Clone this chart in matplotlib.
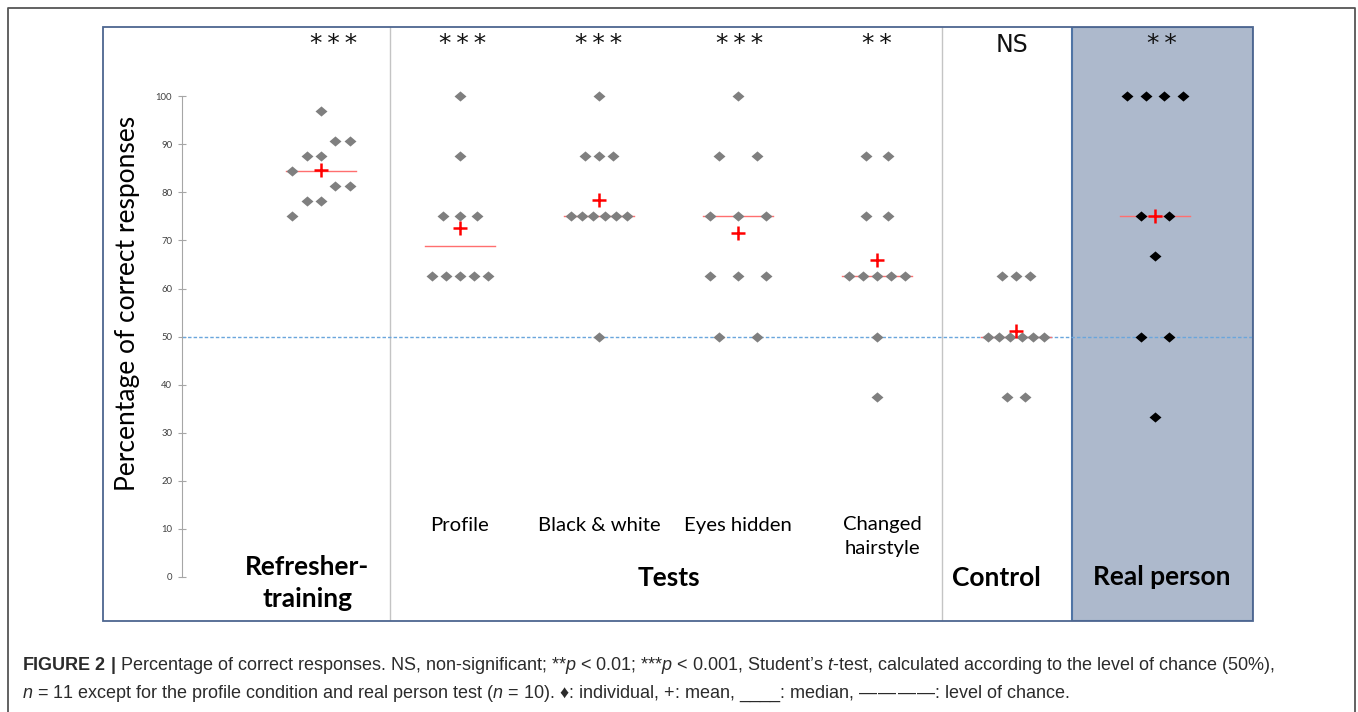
import numpy as np
import matplotlib.pyplot as plt
from matplotlib.path import Path
from matplotlib.lines import Line2D

plt.rcParams['mathtext.fontset'] = 'custom'
plt.rcParams['mathtext.rm'] = 'Liberation Sans'
plt.rcParams['mathtext.it'] = 'Liberation Sans:italic'
plt.rcParams['mathtext.bf'] = 'Liberation Sans:bold'

# data (percent correct, one value per individual)
refresher = [96.875, 90.625, 90.625, 87.5, 87.5, 84.375, 81.25, 81.25, 78.125, 78.125, 75]
profile = [100, 87.5, 75, 75, 75, 62.5, 62.5, 62.5, 62.5, 62.5]
black_white = [100, 87.5, 87.5, 87.5, 75, 75, 75, 75, 75, 75, 50]
eyes_hidden = [100, 87.5, 87.5, 75, 75, 75, 62.5, 62.5, 62.5, 50, 50]
hairstyle = [87.5, 87.5, 75, 75, 62.5, 62.5, 62.5, 62.5, 62.5, 50, 37.5]
control = [62.5, 62.5, 62.5, 50, 50, 50, 50, 50, 50, 37.5, 37.5]
real_person = [100, 100, 100, 100, 75, 75, 66.67, 50, 50, 33.33]

values = [refresher, profile, black_white, eyes_hidden, hairstyle, control, real_person]
stars = ["***", "***", "***", "***", "**", "NS", "**"]
sub_labels = ["Profile", "Black & white", "Eyes hidden", "Changed\nhairstyle"]
chance = 50

# horizontal spread of the dots inside each column (layout only)
s = 0.103
spread = [
    [0, s, 2*s, -s, 0, -2*s, s, 2*s, -s, 0, -2*s],
    [0, 0, -0.12, 0, 0.12, -0.2, -0.1, 0, 0.1, 0.2],
    [0, -0.1, 0, 0.1, -0.2, -0.12, -0.04, 0.04, 0.12, 0.2, 0],
    [0, -0.137, 0.137, -0.2, 0, 0.2, -0.2, 0, 0.2, -0.137, 0.137],
    [-0.08, 0.08, -0.08, 0.08, -0.2, -0.1, 0, 0.1, 0.2, 0, 0],
    [-0.1, 0, 0.1, -0.2, -0.12, -0.04, 0.04, 0.12, 0.2, -0.066, 0.066],
    [-0.2, -0.067, 0.067, 0.2, -0.1, 0.1, 0, -0.1, 0.1, 0],
]
star_shift = [0.09, 0.02, 0.0, 0.01, 0.0, -0.03, 0.05]

W, H = 1358, 712
fig = plt.figure(figsize=(W / 100, H / 100), dpi=100)
ax = fig.add_axes([103 / W, 1 - 621 / H, 1150 / W, 594 / H])
ax.set_xlim(-1.568, 6.705)
ax.set_ylim(-9.17, 114.4)
ax.patch.set_visible(False)

for side in ["top", "right", "bottom"]:
    ax.spines[side].set_visible(False)
ax.spines["left"].set_position(("data", -1))
ax.spines["left"].set_bounds(0, 100)
ax.spines["left"].set_color("#a6a6a6")
ax.set_yticks(np.arange(0, 101, 10))
ax.set_xticks([])
ax.tick_params(axis="y", direction="inout", length=6, width=0.8, color="#a6a6a6",
               labelsize=6.8, labelcolor="#404040", pad=4)
for lab in ax.get_yticklabels():
    lab.set_family("Lato")

# box, dividers and shaded real-person panel
box = plt.Rectangle((0, 0), 1, 1, transform=ax.transAxes, fill=False,
                    edgecolor="#4d6690", lw=1.3, clip_on=False, zorder=5)
ax.add_patch(box)
ax.axvline(0.496, color="#c4c4c4", lw=1)
ax.axvline(4.468, color="#c4c4c4", lw=1)
ax.axvspan(5.403, 6.705, facecolor="#adb9cc", edgecolor="#4f74a5", lw=1.5, zorder=0)

ax.plot([-1, 6.705], [chance, chance], color="#6aa6dc", lw=1.0,
        dashes=(2.5, 1.5), zorder=2)

diamond = Path([(-1, 0), (0, 0.85), (1, 0), (0, -0.85), (-1, 0)],
               [Path.MOVETO, Path.LINETO, Path.LINETO, Path.LINETO, Path.CLOSEPOLY])

for i, (vals, off) in enumerate(zip(values, spread)):
    vals = np.array(vals)
    xs = i + np.array(off)
    col = "#000000" if i == 6 else "#7f7f7f"
    med = np.median(vals)
    ax.plot([i - 0.25, i + 0.25], [med, med], color="#ff6f6f", lw=1, zorder=3)
    ax.plot(xs, vals, linestyle="none", marker=diamond, markersize=8.6,
            color=col, markeredgewidth=0, zorder=4)
    ax.plot(i, vals.mean(), linestyle="none", marker="+", markersize=10,
            markeredgewidth=1.8, color="#ff0000", zorder=6)
    if stars[i] == "NS":
        ax.text(i + star_shift[i], 110.6, "NS", ha="center", va="center",
                fontsize=17, family="DejaVu Sans", color="#111111")
    else:
        ax.text(i + star_shift[i], 110.9, "\u2009".join(stars[i]), ha="center",
                va="center", fontsize=18, family="DejaVu Sans", color="#111111")

# labels under the columns
for j, lab in enumerate(sub_labels):
    x = j + 1 + (0.04 if j == 3 else 0)
    y = 8.4 if "\n" in lab else 10.6
    ax.text(x, y, lab, ha="center", va="center", fontsize=14.6, family="Lato",
            linespacing=1.55)

bold = dict(ha="center", va="center", fontsize=19, family="Lato", fontweight="bold")
ax.text(-0.1, -1.3, "Refresher-\ntraining", linespacing=1.38, **bold)
ax.text(2.5, -0.2, "Tests", **bold)
ax.text(4.86, -0.2, "Control", **bold)
ax.text(6.05, 0, "Real person", **bold)

fig.text(127 / W, 1 - 303 / H, "Percentage of correct responses", rotation=90,
         ha="center", va="center", fontsize=19, family="Lato")

# outer frame
fig.add_artist(Line2D([8 / W, 8 / W, 1355 / W, 1355 / W], [0, 1 - 8 / H, 1 - 8 / H, 0],
                      color="#555555", lw=1.3))

cap_font = ["Liberation Sans", "DejaVu Sans"]
line1 = (r"$\mathbf{FIGURE\ 2\ |}$ Percentage of correct responses. NS, non-significant; "
         r"**$p$ < 0.01; ***$p$ < 0.001, Student’s $t$-test, calculated according to the "
         r"level of chance (50%),")
line2 = (r"$n$ = 11 except for the profile condition and real person test ($n$ = 10). "
         "\u2666: individual, +: mean, ____: median, "
         "\u2014\u200a\u2014\u200a\u2014\u200a\u2014: level of chance.")
fig.text(22 / W, 1 - 665 / H, line1, ha="left", va="center", fontsize=13.0,
         family=cap_font, color="#2b2b2b")
fig.text(22 / W, 1 - 694 / H, line2, ha="left", va="center", fontsize=13.0,
         family=cap_font, color="#2b2b2b")

fig.savefig("out.png", dpi=100)
